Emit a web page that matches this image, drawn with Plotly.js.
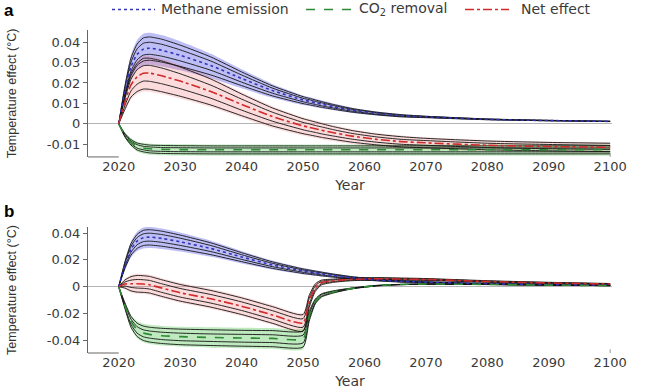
<!DOCTYPE html>
<html>
<head>
<meta charset="utf-8">
<script src="https://cdn.plot.ly/plotly-3.0.1.min.js"></script>
<style>html,body{margin:0;padding:0;background:#fff}#chart{width:650px;height:390px}</style>
</head>
<body>
<div id="chart"></div>
<script>
// ---------------- data ----------------
const years = [2020,2021,2022,2023,2024,2025,2027,2030,2035,2040,2045,2050,2051,2052,2053,2055,2058,2062,2066,2070,2080,2090,2100];

const xTickVals = [2020,2030,2040,2050,2060,2070,2080,2090,2100];
const xTickText = ['2020','2030','2040','2050','2060','2070','2080','2090','2100'];
const yTickValsA = [-0.01,0,0.01,0.02,0.03,0.04];
const yTickTextA = ['-0.01','0','0.01','0.02','0.03','0.04'];
const yTickValsB = [-0.04,-0.02,0,0.02,0.04];
const yTickTextB = ['-0.04','-0.02','0','0.02','0.04'];

const seriesNames = ['Methane emission','CO<sub>2</sub> removal','Net effect'];

// Methane emission pulse (both panels)
const methane     = [0,0.016,0.028,0.034,0.0365,0.037,0.036,0.0335,0.0285,0.0222,0.0163,0.0117,0.011,0.0103,0.0096,0.0083,0.0067,0.0051,0.004,0.0034,0.0022,0.0016,0.0012];
const methaneRun1 = [0,0.0184,0.0322,0.039,0.042,0.0425,0.0414,0.0385,0.0327,0.0254,0.0186,0.0133,0.0125,0.0117,0.0109,0.0094,0.0075,0.0057,0.0045,0.0037,0.0024,0.0017,0.0013];
const methaneRun2 = [0,0.0173,0.0302,0.0367,0.0394,0.0399,0.0389,0.0362,0.0307,0.0239,0.0175,0.0125,0.0118,0.011,0.0103,0.0089,0.0071,0.0054,0.0042,0.0036,0.0023,0.0017,0.0012];
const methaneRun3 = [0,0.0147,0.0258,0.0313,0.0336,0.034,0.0331,0.0308,0.0262,0.0204,0.015,0.0108,0.0101,0.0095,0.0088,0.0077,0.0062,0.0047,0.0037,0.0032,0.0021,0.0015,0.0012];
const methaneRun4 = [0,0.0134,0.0235,0.0286,0.0307,0.0311,0.0302,0.0281,0.0239,0.0187,0.0137,0.0099,0.0093,0.0087,0.0081,0.0071,0.0057,0.0044,0.0034,0.003,0.002,0.0015,0.0011];
const methaneHi   = [0,0.0193,0.0338,0.041,0.0441,0.0446,0.0434,0.0404,0.0343,0.0267,0.0195,0.0139,0.0131,0.0123,0.0115,0.0099,0.0079,0.006,0.0047,0.0039,0.0025,0.0018,0.0014];
const methaneLo   = [0,0.0125,0.0219,0.0266,0.0285,0.0289,0.0281,0.0262,0.0223,0.0174,0.0128,0.0092,0.0087,0.0081,0.0076,0.0066,0.0053,0.0041,0.0032,0.0028,0.0019,0.0014,0.001];

// Panel a: one-off CO2 removal
const co2A     = [0,-0.0055,-0.009,-0.011,-0.0118,-0.0122,-0.0125,-0.0126,-0.0127,-0.0127,-0.0127,-0.0127,-0.0127,-0.0127,-0.0127,-0.0127,-0.0127,-0.0127,-0.0127,-0.0127,-0.0127,-0.0127,-0.0127];
const co2ARun1 = [0,-0.0047,-0.0077,-0.0094,-0.01,-0.0104,-0.0106,-0.0107,-0.0108,-0.0108,-0.0108,-0.0108,-0.0108,-0.0108,-0.0108,-0.0108,-0.0108,-0.0108,-0.0108,-0.0108,-0.0108,-0.0108,-0.0108];
const co2ARun2 = [0,-0.0051,-0.0084,-0.0102,-0.011,-0.0113,-0.0116,-0.0117,-0.0118,-0.0118,-0.0118,-0.0118,-0.0118,-0.0118,-0.0118,-0.0118,-0.0118,-0.0118,-0.0118,-0.0118,-0.0118,-0.0118,-0.0118];
const co2ARun3 = [0,-0.0059,-0.0097,-0.0119,-0.0127,-0.0132,-0.0135,-0.0136,-0.0137,-0.0137,-0.0137,-0.0137,-0.0137,-0.0137,-0.0137,-0.0137,-0.0137,-0.0137,-0.0137,-0.0137,-0.0137,-0.0137,-0.0137];
const co2ARun4 = [0,-0.0064,-0.0104,-0.0128,-0.0137,-0.0142,-0.0145,-0.0146,-0.0147,-0.0147,-0.0147,-0.0147,-0.0147,-0.0147,-0.0147,-0.0147,-0.0147,-0.0147,-0.0147,-0.0147,-0.0147,-0.0147,-0.0147];
const co2AHi   = [0,-0.0043,-0.0071,-0.0088,-0.0094,-0.0097,-0.0099,-0.01,-0.0101,-0.0101,-0.0101,-0.0101,-0.0101,-0.0101,-0.0101,-0.0101,-0.0101,-0.0101,-0.0101,-0.0101,-0.0101,-0.0101,-0.0101];
const co2ALo   = [0,-0.0068,-0.011,-0.0136,-0.0146,-0.0151,-0.0154,-0.0155,-0.0156,-0.0156,-0.0156,-0.0156,-0.0156,-0.0156,-0.0156,-0.0156,-0.0156,-0.0156,-0.0156,-0.0156,-0.0156,-0.0156,-0.0156];

// Panel a: net effect
const netA     = [0,0.0105,0.019,0.023,0.0247,0.0248,0.0235,0.0209,0.0158,0.0095,0.0036,-0.001,-0.0017,-0.0024,-0.0031,-0.0044,-0.006,-0.0076,-0.0087,-0.0093,-0.0105,-0.0111,-0.0115];
const netARun1 = [0,0.0137,0.0245,0.0296,0.032,0.0321,0.0308,0.0278,0.0219,0.0146,0.0078,0.0025,0.0017,0.0009,0.0001,-0.0014,-0.0033,-0.0051,-0.0063,-0.0071,-0.0084,-0.0091,-0.0095];
const netARun2 = [0,0.0122,0.0218,0.0265,0.0284,0.0286,0.0273,0.0245,0.0189,0.0121,0.0057,0.0007,0,-0.0008,-0.0015,-0.0029,-0.0047,-0.0064,-0.0076,-0.0082,-0.0095,-0.0101,-0.0106];
const netARun3 = [0,0.0088,0.0161,0.0194,0.0209,0.0208,0.0196,0.0172,0.0125,0.0067,0.0013,-0.0029,-0.0036,-0.0042,-0.0049,-0.006,-0.0075,-0.009,-0.01,-0.0105,-0.0116,-0.0122,-0.0125];
const netARun4 = [0,0.007,0.0131,0.0158,0.017,0.0169,0.0157,0.0135,0.0092,0.004,-0.001,-0.0048,-0.0054,-0.006,-0.0066,-0.0076,-0.009,-0.0103,-0.0113,-0.0117,-0.0127,-0.0132,-0.0136];
const netAHi   = [0,0.0145,0.0256,0.0308,0.0332,0.0333,0.032,0.0289,0.0229,0.0155,0.0086,0.0032,0.0024,0.0016,0.0008,-0.0007,-0.0026,-0.0045,-0.0057,-0.0066,-0.008,-0.0087,-0.0091];
const netALo   = [0,0.0062,0.012,0.0146,0.0158,0.0157,0.0146,0.0124,0.0082,0.003,-0.002,-0.0057,-0.0063,-0.0069,-0.0075,-0.0085,-0.0099,-0.0112,-0.0122,-0.0126,-0.0136,-0.0141,-0.0145];

// Panel b: CO2 removal sustained until 2050
const co2B     = [0,-0.014,-0.026,-0.032,-0.0345,-0.0355,-0.0365,-0.0372,-0.0378,-0.0382,-0.0385,-0.0388,-0.022,-0.011,-0.0065,-0.0038,-0.0012,0.0008,0.0017,0.002,0.0017,0.0012,0.0008];
const co2BRun1 = [0,-0.0119,-0.0221,-0.0272,-0.0293,-0.0302,-0.031,-0.0316,-0.0321,-0.0325,-0.0327,-0.033,-0.0185,-0.0092,-0.0053,-0.003,-0.0009,0.001,0.0018,0.0021,0.0017,0.0012,0.0008];
const co2BRun2 = [0,-0.013,-0.0242,-0.0298,-0.0321,-0.033,-0.0339,-0.0346,-0.0352,-0.0355,-0.0358,-0.0361,-0.0205,-0.0102,-0.0059,-0.0034,-0.0011,0.0009,0.0017,0.002,0.0017,0.0012,0.0008];
const co2BRun3 = [0,-0.0151,-0.0281,-0.0346,-0.0373,-0.0383,-0.0394,-0.0402,-0.0408,-0.0413,-0.0416,-0.0419,-0.0238,-0.0119,-0.0071,-0.0042,-0.0014,0.0007,0.0016,0.0019,0.0017,0.0012,0.0008];
const co2BRun4 = [0,-0.0162,-0.0302,-0.0371,-0.04,-0.0412,-0.0423,-0.0432,-0.0438,-0.0443,-0.0447,-0.045,-0.0258,-0.0128,-0.0077,-0.0046,-0.0016,0.0006,0.0015,0.0019,0.0016,0.0012,0.0008];
const co2BHi   = [0,-0.0112,-0.0208,-0.0256,-0.0276,-0.0284,-0.0292,-0.0298,-0.0302,-0.0306,-0.0308,-0.031,-0.0175,-0.0087,-0.005,-0.0028,-0.0008,0.0011,0.0019,0.0022,0.0018,0.0013,0.0009];
const co2BLo   = [0,-0.0168,-0.0312,-0.0384,-0.0414,-0.0426,-0.0438,-0.0446,-0.0454,-0.0458,-0.0462,-0.0466,-0.0268,-0.0133,-0.008,-0.0049,-0.0018,0.0005,0.0014,0.0018,0.0016,0.0011,0.0007];

// Panel b: net effect
const netB     = [0,0.002,0.0022,0.0022,0.002,0.0015,-0.001,-0.0045,-0.009,-0.0145,-0.021,-0.027,-0.011,-0.0007,0.0031,0.0045,0.0055,0.0059,0.0057,0.0054,0.0039,0.0028,0.002];
const netBRun1 = [0,0.005,0.0075,0.0084,0.0082,0.0077,0.0052,0.0017,-0.0028,-0.0083,-0.0148,-0.0208,-0.0065,0.0021,0.0049,0.0057,0.0065,0.0068,0.0065,0.0061,0.0045,0.0033,0.0024];
const netBRun2 = [0,0.0035,0.0049,0.0054,0.0052,0.0047,0.0022,-0.0013,-0.0058,-0.0113,-0.0178,-0.0238,-0.0087,0.0007,0.004,0.0051,0.006,0.0064,0.0061,0.0058,0.0042,0.0031,0.0022];
const netBRun3 = [0,0.0005,-0.0005,-0.001,-0.0012,-0.0017,-0.0042,-0.0077,-0.0122,-0.0177,-0.0242,-0.0302,-0.0133,-0.0021,0.0022,0.0039,0.005,0.0054,0.0053,0.005,0.0036,0.0025,0.0018];
const netBRun4 = [0,-0.001,-0.0031,-0.004,-0.0042,-0.0047,-0.0072,-0.0107,-0.0152,-0.0207,-0.0272,-0.0332,-0.0155,-0.0035,0.0013,0.0033,0.0045,0.005,0.0049,0.0047,0.0033,0.0023,0.0016];
const netBHi   = [0,0.0058,0.0087,0.0096,0.0094,0.0089,0.0064,0.0029,-0.0016,-0.0071,-0.0136,-0.0196,-0.0055,0.0027,0.0053,0.006,0.0068,0.007,0.0067,0.0063,0.0047,0.0034,0.0025];
const netBLo   = [0,-0.0018,-0.0043,-0.0052,-0.0054,-0.0059,-0.0084,-0.0119,-0.0164,-0.0219,-0.0284,-0.0344,-0.0165,-0.0043,0.0009,0.003,0.0042,0.0047,0.0047,0.0045,0.0031,0.0022,0.0015];

// ---------------- styles ----------------
const colMethane = '#3434b8', colCO2 = '#2f8a35', colNet = '#d02a2a';
const fillMethane = 'rgba(92,92,232,0.40)', fillCO2 = 'rgba(95,200,95,0.40)', fillNet = 'rgba(240,115,115,0.26)';
const SH = {shape:'spline', smoothing:0.6};

function band(lo, hi, fill, xa, ya) {
  return [
    {x:years, y:lo, xaxis:xa, yaxis:ya, mode:'lines', line:Object.assign({width:0}, SH), hoverinfo:'skip', showlegend:false},
    {x:years, y:hi, xaxis:xa, yaxis:ya, mode:'lines', line:Object.assign({width:0}, SH), fill:'tonexty', fillcolor:fill, hoverinfo:'skip', showlegend:false}
  ];
}
function runs(list, xa, ya) {
  return list.map(r => ({x:years, y:r, xaxis:xa, yaxis:ya, mode:'lines',
    line:Object.assign({color:'rgba(20,20,20,0.9)', width:1}, SH), hoverinfo:'skip', showlegend:false}));
}
function centre(y, name, color, dash, xa, ya) {
  return {x:years, y:y, xaxis:xa, yaxis:ya, mode:'lines', name:name,
    line:Object.assign({color:color, width:1.6, dash:dash}, SH), showlegend:false};
}

function panel(xa, ya, m, mr, mlo, mhi, c, cr, clo, chi, n, nr, nlo, nhi) {
  return [].concat(
    band(mlo, mhi, fillMethane, xa, ya),
    band(nlo, nhi, fillNet, xa, ya),
    band(clo, chi, fillCO2, xa, ya),
    runs(mr, xa, ya), runs(nr, xa, ya), runs(cr, xa, ya),
    [centre(m, seriesNames[0], colMethane, 'dot', xa, ya),
     centre(c, seriesNames[1], colCO2, 'dash', xa, ya),
     centre(n, seriesNames[2], colNet, 'dashdot', xa, ya)]
  );
}

const methaneRuns = [methaneRun1, methaneRun2, methaneRun3, methaneRun4];
const data = [].concat(
  panel('x','y', methane, methaneRuns, methaneLo, methaneHi,
        co2A, [co2ARun1,co2ARun2,co2ARun3,co2ARun4], co2ALo, co2AHi,
        netA, [netARun1,netARun2,netARun3,netARun4], netALo, netAHi),
  panel('x2','y2', methane, methaneRuns, methaneLo, methaneHi,
        co2B, [co2BRun1,co2BRun2,co2BRun3,co2BRun4], co2BLo, co2BHi,
        netB, [netBRun1,netBRun2,netBRun3,netBRun4], netBLo, netBHi)
);

const FONT = 'DejaVu Sans, sans-serif';
function xAxis(anchor) {
  return {anchor:anchor, domain:[0,1], range:[2015,2100.3], tickvals:xTickVals, ticktext:xTickText,
    showline:false, showgrid:false, zeroline:false, ticks:'', ticklabelstandoff:0,
    tickfont:{family:FONT, size:13, color:'#3a3a3a'},
    title:{text:'Year', font:{family:FONT, size:14, color:'#3a3a3a'}, standoff:7}, automargin:false};
}
function yAxis(anchor, dom, range, tv, tt) {
  return {anchor:anchor, domain:dom, range:range, tickvals:tv, ticktext:tt,
    showline:true, linecolor:'#666', linewidth:1, ticks:'outside', ticklen:4, tickcolor:'#666',
    showgrid:false, zeroline:true, zerolinecolor:'#b4b4b4', zerolinewidth:1,
    tickfont:{family:FONT, size:13, color:'#3a3a3a'},
    title:{text:'Temperature effect (°C)', font:{family:'Liberation Sans, Arial, sans-serif', size:12.5, color:'#333'}, standoff:27},
    automargin:false};
}

// manual legend (paper coordinates, above panel a)
const LEG_Y = 1.0635;
function px(p) { return (p - 88) / 524; }
const legendLines = [
  {x0:px(112), x1:px(155), color:colMethane, dash:'dot'},
  {x0:px(306), x1:px(352), color:colCO2, dash:'dash'},
  {x0:px(465), x1:px(509), color:colNet, dash:'dashdot'}
];
const legendTextX = [px(160), px(358), px(520)];

const shapes = [
  {type:'line', xref:'x', yref:'y domain', x0:2015, x1:2020, y0:0, y1:0, line:{color:'#666', width:1}},
  {type:'line', xref:'x2', yref:'y2 domain', x0:2015, x1:2020, y0:0, y1:0, line:{color:'#666', width:1}},
  {type:'line', xref:'x', yref:'y domain', x0:2100, x1:2100, y0:0, y1:0.03, line:{color:'#999', width:1}},
  {type:'line', xref:'x2', yref:'y2 domain', x0:2100, x1:2100, y0:0, y1:0.03, line:{color:'#999', width:1}}
].concat(legendLines.map(l => ({type:'line', xref:'paper', yref:'paper', x0:l.x0, x1:l.x1, y0:LEG_Y, y1:LEG_Y,
  line:{color:l.color, width:1.6, dash:l.dash}})));

const annotations = [
  {text:'<b>a</b>', xref:'paper', yref:'paper', x:-0.165, y:1.06, xanchor:'left', yanchor:'middle', showarrow:false,
   font:{family:'Liberation Sans, Arial, sans-serif', size:17, color:'#000'}},
  {text:'<b>b</b>', xref:'paper', yref:'paper', x:-0.165, y:0.437, xanchor:'left', yanchor:'middle', showarrow:false,
   font:{family:'Liberation Sans, Arial, sans-serif', size:17, color:'#000'}}
].concat(seriesNames.map((n, i) => ({text:n, xref:'paper', yref:'paper', x:legendTextX[i], y:LEG_Y,
  xanchor:'left', yanchor:'middle', showarrow:false, borderpad:0, font:{family:FONT, size:14, color:'#3a3a3a'}})));

const layout = {
  width:650, height:390,
  margin:{l:88, r:38, t:30, b:37, autoexpand:false},
  paper_bgcolor:'#ffffff', plot_bgcolor:'#ffffff',
  font:{family:FONT, size:13, color:'#333'},
  showlegend:false,
  xaxis:xAxis('y'),
  yaxis:yAxis('x', [0.607,1], [-0.0162,0.0459], yTickValsA, yTickTextA),
  xaxis2:xAxis('y2'),
  yaxis2:yAxis('x2', [0,0.39], [-0.0494,0.0445], yTickValsB, yTickTextB),
  shapes:shapes,
  annotations:annotations
};

Plotly.newPlot('chart', data, layout, {displayModeBar:false, staticPlot:true});
</script>
</body>
</html>
